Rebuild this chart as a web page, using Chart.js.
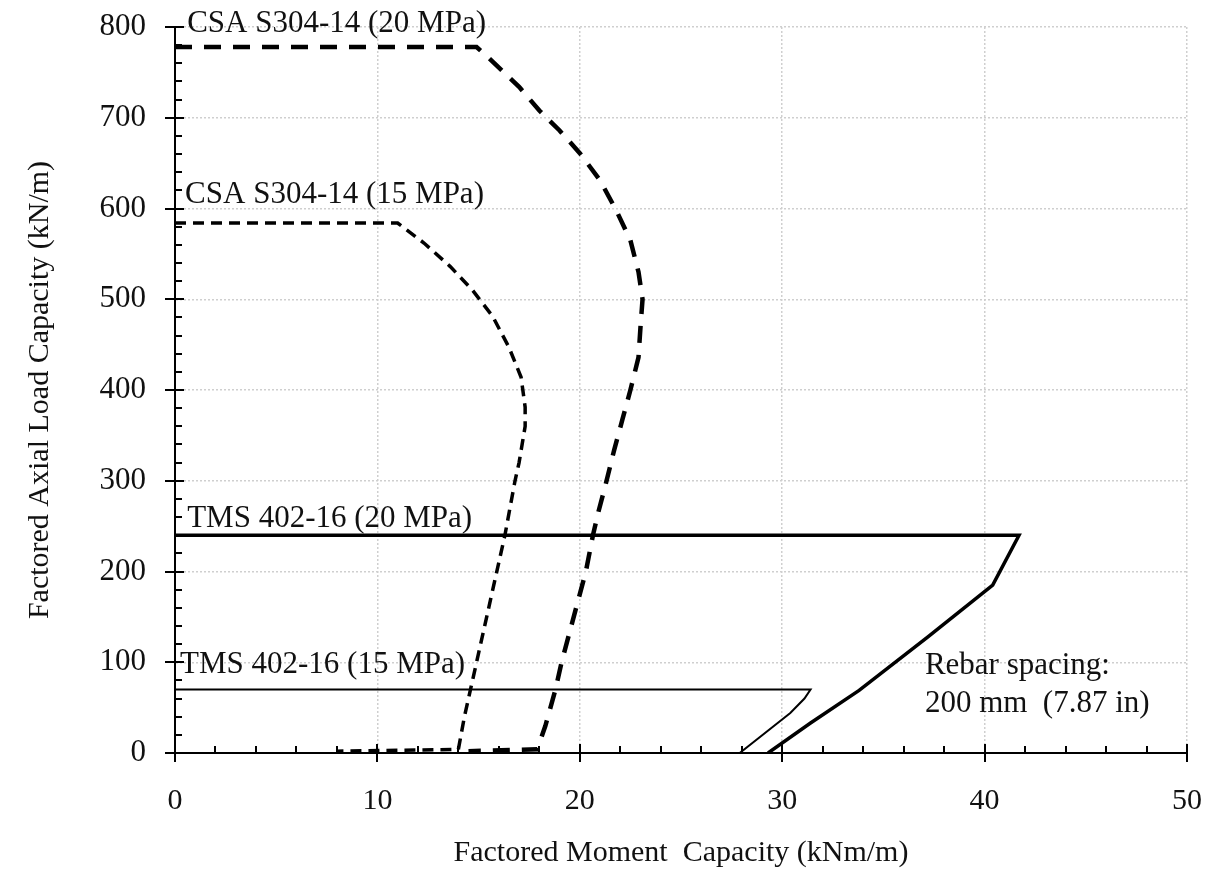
<!DOCTYPE html>
<html>
<head>
<meta charset="utf-8">
<script src="https://cdn.jsdelivr.net/npm/chart.js@4.4.1/dist/chart.umd.min.js"></script>
<style>
  html, body { margin: 0; padding: 0; background: #fff; }
</style>
</head>
<body>
<canvas id="chart" width="1211" height="873"></canvas>
<script>
// interaction curves: moment (kNm/m) vs axial load (kN/m)
const csa20Moment = [0, 14.9, 15.4, 17.0, 18.0, 19.0, 20.0, 21.0, 21.8, 22.5, 22.9, 23.1, 23.0, 22.9, 22.5, 22.1, 21.7, 21.3, 20.9, 20.65, 20.3, 19.1, 18.8, 18.3, 17.9, 14.5];
const csa20Axial = [778, 778, 768, 734, 708, 686, 661, 631, 598, 565, 530, 500, 470, 436, 400, 367, 334, 298, 264, 240, 200, 100, 70, 30, 4, 2];

const csa15Moment = [0, 11.0, 12.3, 13.6, 14.7, 15.7, 16.5, 17.1, 17.3, 17.3, 17.0, 16.8, 16.3, 15.6, 15.0, 14.6, 14.3, 14.0, 8.0];
const csa15Axial = [584, 584, 562, 536, 510, 481, 447, 414, 381, 360, 320, 300, 240, 170, 110, 70, 40, 4, 2];

const tms20Moment = [0, 41.7, 40.4, 37.2, 33.8, 31.4, 29.3];
const tms20Axial = [240, 240, 185, 128, 69, 33, 0];

const tms15Moment = [0, 31.4, 31.1, 30.4, 27.9];
const tms15Axial = [70, 70, 60, 44, 0];

const xTicks = [0, 10, 20, 30, 40, 50];
const yTicks = [0, 100, 200, 300, 400, 500, 600, 700, 800];

const notes = [
  { text: 'CSA S304-14 (20 MPa)', x: 0.6, y: 795 },
  { text: 'CSA S304-14 (15 MPa)', x: 0.5, y: 606 },
  { text: 'TMS 402-16 (20 MPa)', x: 0.6, y: 249 },
  { text: 'TMS 402-16 (15 MPa)', x: 0.25, y: 88 },
  { text: 'Rebar spacing:', x: 37.05, y: 87 },
  { text: '200 mm  (7.87 in)', x: 37.05, y: 45 },
];

const SERIF = "'Liberation Serif', 'Times New Roman', serif";
Chart.defaults.font.family = SERIF;
Chart.defaults.color = '#111';

const pts = (xs, ys) => xs.map((x, i) => ({ x, y: ys[i] }));

const line = (label, data, width, dash) => ({
  label,
  data,
  showLine: true,
  borderColor: '#000',
  borderWidth: width,
  borderDash: dash,
  pointRadius: 0,
  fill: false,
  tension: 0,
});

// major ticks cross the axis, minor ones point inward
const tickMarks = {
  id: 'tickMarks',
  afterDraw(chart) {
    const { ctx, scales: { x, y } } = chart;
    const area = chart.chartArea;
    ctx.save();
    ctx.strokeStyle = '#000';
    ctx.lineWidth = 2;
    ctx.beginPath();
    for (let v = 0; v <= 50; v += 2) {
      const px = Math.round(x.getPixelForValue(v));
      const major = v % 10 === 0;
      ctx.moveTo(px, area.bottom + (major ? 9 : 0));
      ctx.lineTo(px, area.bottom - (major ? 9 : 7));
    }
    for (let v = 0; v <= 800; v += 20) {
      const py = Math.round(y.getPixelForValue(v));
      const major = v % 100 === 0;
      ctx.moveTo(area.left - (major ? 10 : 0), py);
      ctx.lineTo(area.left + (major ? 9 : 7), py);
    }
    ctx.stroke();
    ctx.restore();
  },
};

const noteText = {
  id: 'noteText',
  afterDraw(chart) {
    const { ctx, scales: { x, y } } = chart;
    ctx.save();
    ctx.fillStyle = '#111';
    ctx.font = '31px ' + SERIF;
    ctx.textAlign = 'left';
    ctx.textBaseline = 'alphabetic';
    notes.forEach((n) => ctx.fillText(n.text, x.getPixelForValue(n.x), y.getPixelForValue(n.y)));
    ctx.restore();
  },
};

// invisible tick stubs push the labels out without adding corner padding
const hiddenTicks = (len) => ({
  color: '#cfcfcf',
  lineWidth: 1.5,
  drawTicks: true,
  tickLength: len,
  tickColor: 'rgba(0,0,0,0)',
});

new Chart(document.getElementById('chart'), {
  type: 'scatter',
  data: {
    datasets: [
      line('CSA S304-14 (20 MPa)', pts(csa20Moment, csa20Axial), 4.5, [17, 12]),
      line('CSA S304-14 (15 MPa)', pts(csa15Moment, csa15Axial), 3.5, [11, 7]),
      line('TMS 402-16 (20 MPa)', pts(tms20Moment, tms20Axial), 3.5, []),
      line('TMS 402-16 (15 MPa)', pts(tms15Moment, tms15Axial), 2, []),
    ],
  },
  options: {
    responsive: false,
    animation: false,
    layout: { padding: { left: 0, right: 24, top: 27, bottom: 0 } },
    plugins: { legend: { display: false }, tooltip: { enabled: false } },
    scales: {
      x: {
        type: 'linear',
        min: 0,
        max: 50,
        afterFit: (s) => { s.height = 120; },
        afterBuildTicks: (s) => { s.ticks = xTicks.map((v) => ({ value: v })); },
        ticks: { font: { size: 30 }, padding: 2, color: '#111' },
        grid: hiddenTicks(28),
        border: { color: '#000', width: 2, dash: [2, 2] },
        title: {
          display: true,
          text: 'Factored Moment  Capacity (kNm/m)',
          font: { size: 30 },
          color: '#111',
          padding: { top: 0, bottom: 2 },
        },
      },
      y: {
        type: 'linear',
        min: 0,
        max: 800,
        afterFit: (s) => { s.width = 175; },
        afterBuildTicks: (s) => { s.ticks = yTicks.map((v) => ({ value: v })); },
        ticks: { font: { size: 31 }, padding: 2, color: '#111' },
        grid: hiddenTicks(27),
        border: { color: '#000', width: 2, dash: [2, 2] },
        title: {
          display: true,
          text: 'Factored Axial Load Capacity (kN/m)',
          font: { size: 30 },
          color: '#111',
          padding: { top: 22, bottom: 0 },
        },
      },
    },
  },
  plugins: [tickMarks, noteText],
});
</script>
</body>
</html>
